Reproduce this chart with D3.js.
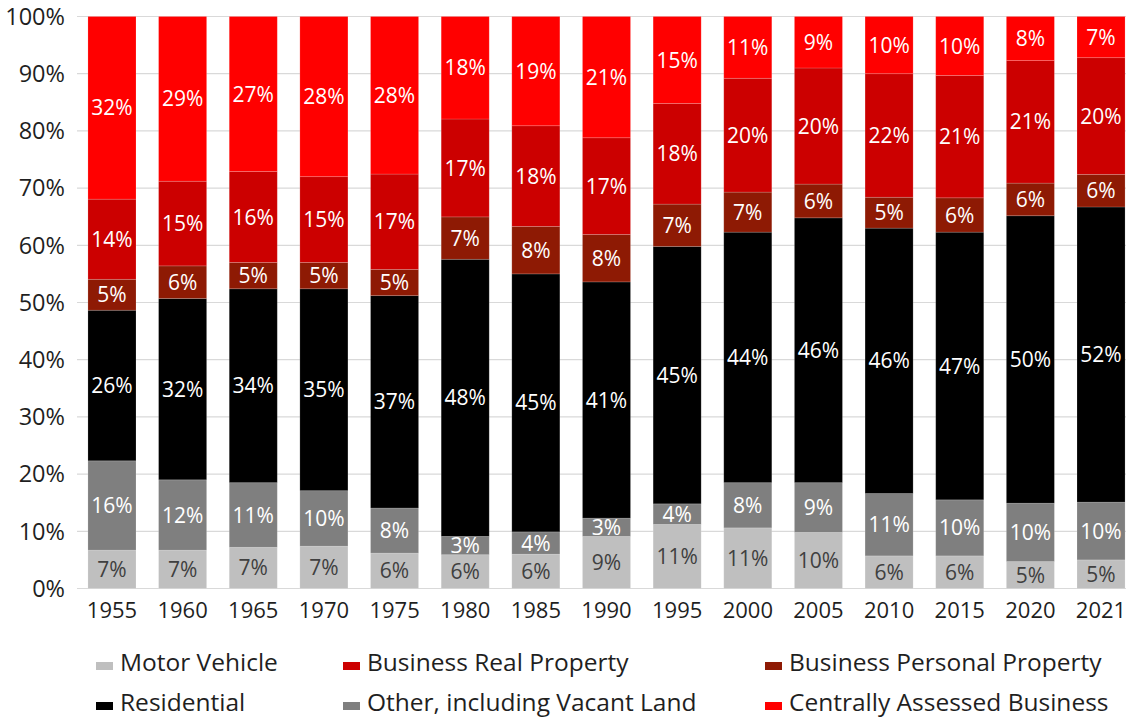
<!DOCTYPE html>
<html>
<head>
<meta charset="utf-8">
<script src="https://cdn.jsdelivr.net/npm/d3@7"></script>
<style>
  html, body { margin: 0; padding: 0; background: #fff; }
  svg { display: block; font-family: "Open Sans", sans-serif; }
</style>
</head>
<body>
<svg id="chart"></svg>
<script>
// data (share of total, %)
let years = ["1955", "1960", "1965", "1970", "1975", "1980", "1985", "1990", "1995", "2000", "2005", "2010", "2015", "2020", "2021"];
let motorVehicle     = [6.7, 6.7, 7.2, 7.4, 6.2, 5.9, 6.0, 9.1, 11.2, 10.6, 9.8, 5.7, 5.7, 4.7, 5.0];
let otherVacantLand  = [15.6, 12.3, 11.3, 9.7, 7.9, 3.2, 3.9, 3.2, 3.6, 7.9, 8.7, 10.9, 9.8, 10.2, 10.1];
let residential      = [26.3, 31.7, 33.9, 35.3, 37.2, 48.4, 45.1, 41.3, 45.0, 43.8, 46.3, 46.4, 46.8, 50.2, 51.6];
let businessPersonal = [5.4, 5.7, 4.6, 4.6, 4.6, 7.4, 8.3, 8.3, 7.4, 7.0, 5.9, 5.4, 6.0, 5.7, 5.7];
let businessReal     = [14.0, 14.8, 15.9, 15.0, 16.7, 17.1, 17.6, 16.9, 17.6, 19.9, 20.3, 21.6, 21.4, 21.4, 20.4];
let centrallyAssessed = [31.9, 28.8, 27.1, 28.0, 27.6, 17.9, 19.1, 21.2, 15.2, 10.8, 9.0, 10.0, 10.3, 7.7, 7.2];
let yTicks = [0, 0.1, 0.2, 0.3, 0.4, 0.5, 0.6, 0.7, 0.8, 0.9, 1];

// series in stacking order, bottom to top
let series = [
    {key: "Motor Vehicle", values: motorVehicle, color: "#bfbfbf", text: "#404040"},
    {key: "Other, including Vacant Land", values: otherVacantLand, color: "#7f7f7f", text: "#fff"},
    {key: "Residential", values: residential, color: "#000000", text: "#fff"},
    {key: "Business Personal Property", values: businessPersonal, color: "#8e1a04", text: "#fff"},
    {key: "Business Real Property", values: businessReal, color: "#cc0000", text: "#fff"},
    {key: "Centrally Assessed Business", values: centrallyAssessed, color: "#ff0000", text: "#fff"}
];

// legend layout: 2 rows x 3 columns
let legendRows = [
    ["Motor Vehicle", "Business Real Property", "Business Personal Property"],
    ["Residential", "Other, including Vacant Land", "Centrally Assessed Business"]
];

//container
let width = 1126,
    height = 718,
    margin = {top: 16.5, right: -10, bottom: 129.5, left: 77};

let svg = d3.select("#chart")
    .attr("width", width)
    .attr("height", height);

// table for d3.stack
let table = years.map((y, i) => {
    let row = {year: y};
    series.forEach(s => row[s.key] = s.values[i]);
    return row;
});

let stack = d3.stack()
    .keys(series.map(s => s.key))
    .offset(d3.stackOffsetExpand);
let stacked = stack(table);

let x = d3.scaleBand()
    .domain(years)
    .range([margin.left, width - margin.right])
    .paddingInner(0.32)
    .paddingOuter(0.155);

let y = d3.scaleLinear()
    .domain([0, 1])
    .range([height - margin.bottom, margin.top]);

let color = d3.scaleOrdinal()
    .domain(series.map(s => s.key))
    .range(series.map(s => s.color));

//gridlines
svg.append("g")
    .attr("class", "grid")
    .selectAll("line")
    .data(yTicks).enter()
    .append("line")
        .attr("x1", margin.left)
        .attr("x2", width)
        .attr("y1", d => y(d))
        .attr("y2", d => y(d))
        .attr("stroke", "#d9d9d9")
        .attr("stroke-width", 1.2);

//y axis labels
let yAxis = d3.axisLeft(y)
    .tickValues(yTicks)
    .tickFormat(d3.format(".0%"))
    .tickSize(0)
    .tickPadding(12);

svg.append("g")
    .attr("transform", "translate(" + margin.left + ",0)")
    .call(yAxis)
    .call(g => g.select(".domain").remove())
    .call(g => g.selectAll("text")
        .attr("font-size", 23.5)
        .attr("font-family", "Open Sans")
        .attr("fill", "#1f1f1f")
        .attr("dy", "0.33em"));

//x axis labels
let xAxis = d3.axisBottom(x)
    .tickSize(0)
    .tickPadding(12);

svg.append("g")
    .attr("transform", "translate(0," + y(0) + ")")
    .call(xAxis)
    .call(g => g.select(".domain").remove())
    .call(g => g.selectAll("text")
        .attr("font-size", 22)
        .attr("font-family", "Open Sans")
        .attr("fill", "#1f1f1f")
        .attr("dy", "0.78em"));

//stacked bars
let layer = svg.append("g")
    .attr("class", "bars")
    .selectAll("g")
    .data(stacked).enter()
    .append("g")
        .attr("fill", d => color(d.key));

layer.selectAll("rect")
    .data(d => d).enter()
    .append("rect")
        .attr("x", d => x(d.data.year))
        .attr("y", d => y(d[1]))
        .attr("width", x.bandwidth())
        .attr("height", d => y(d[0]) - y(d[1]))
        .attr("stroke", "#ffffff")
        .attr("stroke-opacity", 0.2)
        .attr("stroke-width", 0.8);

//segment labels
let fmt = v => Math.round(v) + "%";

let labels = svg.append("g")
    .attr("class", "labels")
    .selectAll("g")
    .data(stacked).enter()
    .append("g")
        .attr("fill", (d, i) => series[i].text);

labels.selectAll("text")
    .data(d => d.map(p => ({p: p, key: d.key}))).enter()
    .append("text")
        .attr("x", d => x(d.p.data.year) + x.bandwidth() / 2)
        .attr("y", d => (y(d.p[0]) + y(d.p[1])) / 2)
        .attr("dy", "0.36em")
        .attr("text-anchor", "middle")
        .attr("font-size", 21)
        .text(d => fmt(d.p.data[d.key]));

//legend
let legendX = [96, 343, 765],
    legendY = [671, 711];

let legend = svg.append("g").attr("class", "legend");

legendRows.forEach((row, r) => {
    row.forEach((key, c) => {
        let item = legend.append("g")
            .attr("transform", "translate(" + legendX[c] + "," + legendY[r] + ")");
        item.append("rect")
            .attr("x", 0)
            .attr("y", -9)
            .attr("width", 17)
            .attr("height", 8)
            .attr("fill", color(key));
        item.append("text")
            .attr("x", 24)
            .attr("y", 0)
            .attr("font-size", 24.5)
            .attr("fill", "#1f1f1f")
            .text(key);
    });
});
</script>
</body>
</html>
